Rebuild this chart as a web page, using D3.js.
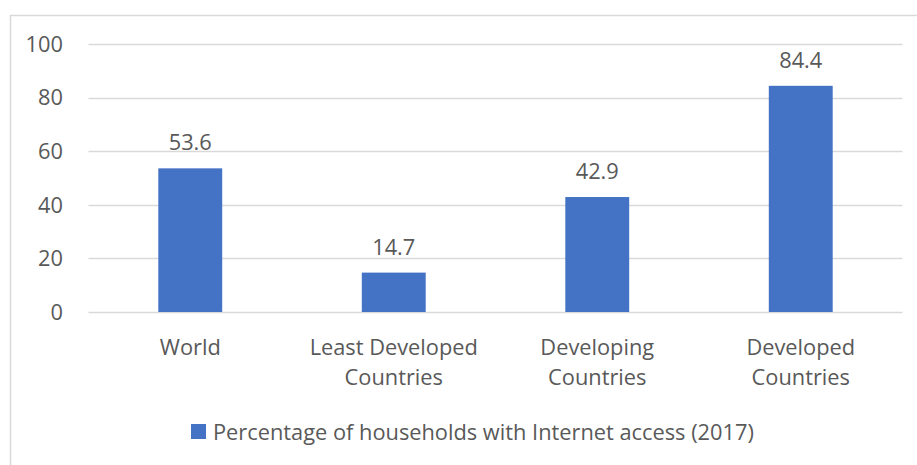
<!DOCTYPE html>
<html>
<head>
<meta charset="utf-8">
<script src="https://cdn.jsdelivr.net/npm/d3@7"></script>
<style>
  html, body { margin: 0; padding: 0; background: #ffffff; }
  svg { display: block; }
  text { font-family: "Open Sans", "Noto Sans", sans-serif; fill: #595959; }
</style>
</head>
<body>
<svg id="chart" width="917" height="465"></svg>
<script>
// Household internet access by development group, 2017
const categories = [["World"], ["Least Developed", "Countries"], ["Developing", "Countries"], ["Developed", "Countries"]];
const values = [53.6, 14.7, 42.9, 84.4];
const yTicks = [0, 20, 40, 60, 80, 100];
const seriesName = "Percentage of households with Internet access (2017)";

const W = 917, H = 465;
const margin = { left: 88.5, right: 14.5, top: 44, bottom: 153 };
const fontSize = 21.8;
const svg = d3.select("#chart");

// chart frame
svg.append("rect")
  .attr("x", 10.5).attr("y", 15.5)
  .attr("width", W + 20).attr("height", H + 20)
  .attr("fill", "none").attr("stroke", "#d9d9d9").attr("stroke-width", 1.5);

const keys = categories.map(c => c.join(" "));
const x = d3.scaleBand()
  .domain(keys)
  .range([margin.left, W - margin.right])
  .paddingInner(0.686).paddingOuter(0.343);

const y = d3.scaleLinear().domain([0, 100]).range([312, 44]);

// gridlines
svg.append("g")
  .selectAll("line")
  .data(yTicks)
  .join("line")
  .attr("x1", margin.left).attr("x2", W - margin.right)
  .attr("y1", d => Math.round(y(d)) + 0.5).attr("y2", d => Math.round(y(d)) + 0.5)
  .attr("stroke", "#d9d9d9").attr("stroke-width", 1.5);

// y axis labels
svg.append("g")
  .selectAll("text")
  .data(yTicks)
  .join("text")
  .attr("x", 63).attr("y", d => y(d))
  .attr("dy", "0.36em")
  .attr("text-anchor", "end")
  .attr("font-size", fontSize)
  .text(d => d);

// bars
svg.append("g")
  .selectAll("rect")
  .data(values)
  .join("rect")
  .attr("x", (d, i) => x(keys[i]))
  .attr("width", x.bandwidth())
  .attr("y", d => y(d))
  .attr("height", d => y(0) - y(d))
  .attr("fill", "#4472c4");

// value labels
svg.append("g")
  .selectAll("text")
  .data(values)
  .join("text")
  .attr("x", (d, i) => x(keys[i]) + x.bandwidth() / 2)
  .attr("y", d => y(d) - 18)
  .attr("text-anchor", "middle")
  .attr("font-size", fontSize)
  .text(d => d.toFixed(1));

// category labels
const cat = svg.append("g")
  .selectAll("text")
  .data(categories)
  .join("text")
  .attr("text-anchor", "middle")
  .attr("font-size", fontSize)
  .attr("transform", (d, i) => `translate(${x(keys[i]) + x.bandwidth() / 2},355)`);
cat.selectAll("tspan")
  .data(d => d)
  .join("tspan")
  .attr("x", 0)
  .attr("y", (d, i) => i * 30)
  .text(d => d);

// legend
const legend = svg.append("g");
legend.append("rect")
  .attr("x", 191).attr("y", 424).attr("width", 15).attr("height", 15)
  .attr("fill", "#4472c4");
legend.append("text")
  .attr("x", 213).attr("y", 440)
  .attr("font-size", fontSize)
  .text(seriesName);
</script>
</body>
</html>
